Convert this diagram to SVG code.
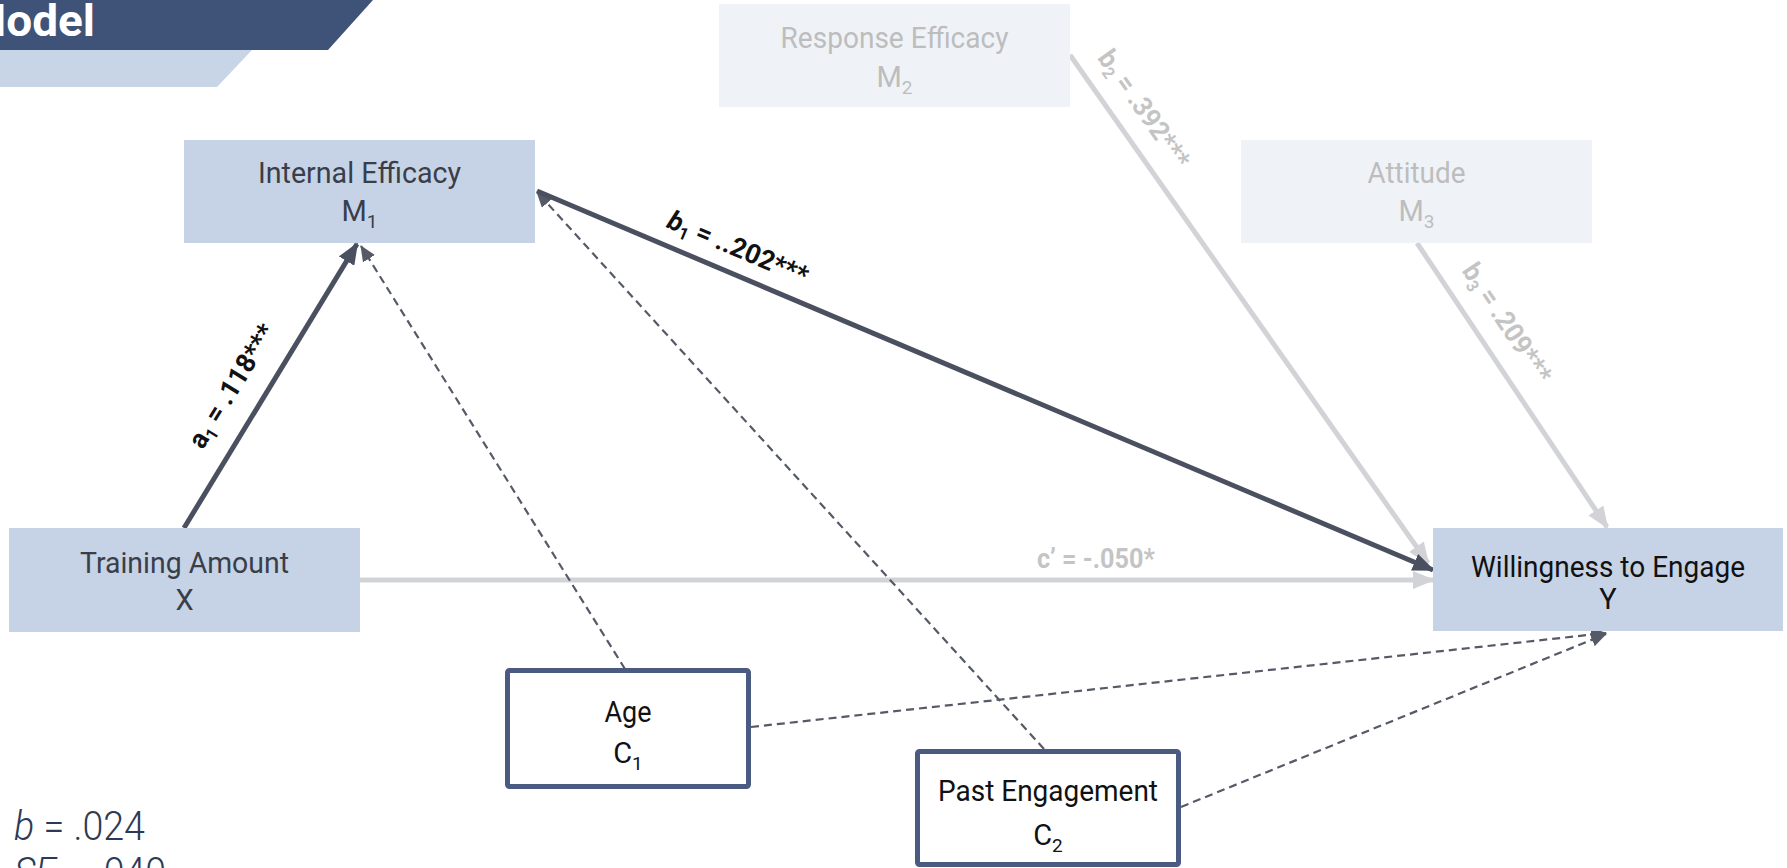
<svg xmlns="http://www.w3.org/2000/svg" width="1787" height="868" viewBox="0 0 1787 868">
<style>
.node{font-family:Roboto,"Liberation Sans",sans-serif;font-size:29px;text-anchor:middle}
.dk{fill:#3a3e48}
.bk{fill:#111}
.gy{fill:#bdbdbd}
.sub{font-size:19px}
.lbl{font-family:Roboto,"Liberation Sans",sans-serif;font-size:27px;font-weight:700;text-anchor:middle}
.solid{stroke:#4b5060;stroke-width:5;fill:none}
.gline{stroke:#d2d3d7;stroke-width:5;fill:none}
.dash{stroke:#555a66;stroke-width:2.2;stroke-dasharray:8 5;fill:none}
</style>
<defs>
<marker id="ad" markerUnits="userSpaceOnUse" markerWidth="22" markerHeight="18" refX="20" refY="9" orient="auto"><path d="M0,0 L22,9 L0,18 z" fill="#4b5060"/></marker>
<marker id="ag" markerUnits="userSpaceOnUse" markerWidth="22" markerHeight="18" refX="20" refY="9" orient="auto"><path d="M0,0 L22,9 L0,18 z" fill="#d2d3d7"/></marker>
<marker id="ax" markerUnits="userSpaceOnUse" markerWidth="16" markerHeight="14" refX="15" refY="7" orient="auto"><path d="M0,0 L16,7 L0,14 z" fill="#555a66"/></marker>
</defs>
<rect width="1787" height="868" fill="#fff"/>
<g id="header">
<polygon points="0,50 252,50 217,87 0,87" fill="#c8d5e7"/>
<polygon points="0,0 373,0 328,50 0,50" fill="#3f5278"/>
<text x="-34" y="36" font-family="Roboto,'Liberation Sans',sans-serif" font-size="45" font-weight="700" fill="#fff" textLength="129" lengthAdjust="spacingAndGlyphs">Model</text>
</g>
<g id="connectors">
<line class="gline" x1="1070" y1="55" x2="1428" y2="563" marker-end="url(#ag)"/>
<line class="gline" x1="1417" y1="243" x2="1607" y2="527" marker-end="url(#ag)"/>
<line class="gline" x1="360" y1="580" x2="1433" y2="580" marker-end="url(#ag)"/>
<line class="dash" x1="625" y1="669" x2="361" y2="246" marker-end="url(#ax)"/>
<line class="dash" x1="1044" y1="749" x2="537" y2="192" marker-end="url(#ax)"/>
<line class="dash" x1="751" y1="727" x2="1606" y2="633" marker-end="url(#ax)"/>
<line class="dash" x1="1181" y1="807" x2="1606" y2="634" marker-end="url(#ax)"/>
<line class="solid" x1="184" y1="528" x2="357" y2="244" marker-end="url(#ad)"/>
<line class="solid" x1="537" y1="191" x2="1433" y2="570" marker-end="url(#ad)"/>
<text class="lbl" fill="#111" transform="translate(232,386) rotate(-58.3)" y="9" textLength="140" lengthAdjust="spacingAndGlyphs">a<tspan font-size="17" dy="5">1</tspan><tspan dy="-5"> = .118***</tspan></text>
<text class="lbl" fill="#111" transform="translate(738,248) rotate(22.9)" y="9" textLength="150" lengthAdjust="spacingAndGlyphs"><tspan font-style="italic">b</tspan><tspan font-size="17" dy="5">1</tspan><tspan dy="-5"> = ..202***</tspan></text>
<text class="lbl" fill="#c4c4c4" font-weight="500" transform="translate(1144,109) rotate(54.7)" y="9" textLength="138" lengthAdjust="spacingAndGlyphs">b<tspan font-size="17" dy="5">2</tspan><tspan dy="-5"> = .392***</tspan></text>
<text class="lbl" fill="#c4c4c4" font-weight="500" transform="translate(1507,323) rotate(56.2)" y="9" textLength="138" lengthAdjust="spacingAndGlyphs">b<tspan font-size="17" dy="5">3</tspan><tspan dy="-5"> = .209***</tspan></text>
<text class="lbl" fill="#c4c4c4" x="1096" y="568" font-size="28" textLength="118" lengthAdjust="spacingAndGlyphs">c’ = -.050*</text>
</g>
<g id="node-response">
<rect x="719" y="4" width="351" height="103" fill="#eff3f8"/>
<text class="node gy" x="894.5" y="48" textLength="228" lengthAdjust="spacingAndGlyphs">Response Efficacy</text>
<text class="node gy" x="894.5" y="87">M<tspan class="sub" dy="7">2</tspan></text>
</g>
<g id="node-internal">
<rect x="184" y="140" width="351" height="103" fill="#c6d3e6"/>
<text class="node dk" x="359.5" y="183" textLength="203" lengthAdjust="spacingAndGlyphs">Internal Efficacy</text>
<text class="node dk" x="359.5" y="221">M<tspan class="sub" dy="7">1</tspan></text>
</g>
<g id="node-attitude">
<rect x="1241" y="140" width="351" height="103" fill="#eff3f8"/>
<text class="node gy" x="1416.5" y="183" textLength="98" lengthAdjust="spacingAndGlyphs">Attitude</text>
<text class="node gy" x="1416.5" y="221">M<tspan class="sub" dy="7">3</tspan></text>
</g>
<g id="node-training">
<rect x="9" y="528" width="351" height="104" fill="#c6d3e6"/>
<text class="node dk" x="184.5" y="573" textLength="209" lengthAdjust="spacingAndGlyphs">Training Amount</text>
<text class="node dk" x="184.5" y="610">X</text>
</g>
<g id="node-willingness">
<rect x="1433" y="528" width="350" height="103" fill="#c6d3e6"/>
<text class="node bk" x="1608" y="577" textLength="274" lengthAdjust="spacingAndGlyphs">Willingness to Engage</text>
<text class="node bk" x="1608" y="609">Y</text>
</g>
<g id="node-age">
<rect x="507.5" y="670.5" width="241" height="116" rx="2" fill="#fff" stroke="#4a5a80" stroke-width="5"/>
<text class="node bk" x="628" y="722" textLength="47" lengthAdjust="spacingAndGlyphs">Age</text>
<text class="node bk" x="628" y="763">C<tspan class="sub" dy="7">1</tspan></text>
</g>
<g id="node-past">
<rect x="917.5" y="751.5" width="261" height="113" rx="2" fill="#fff" stroke="#4a5a80" stroke-width="5"/>
<text class="node bk" x="1048" y="801" textLength="220" lengthAdjust="spacingAndGlyphs">Past Engagement</text>
<text class="node bk" x="1048" y="845">C<tspan class="sub" dy="7">2</tspan></text>
</g>
<g id="stats" font-family="Roboto,'Liberation Sans',sans-serif" font-size="40" font-weight="300" fill="#2c3a55">
<text x="14" y="840" textLength="131" lengthAdjust="spacingAndGlyphs"><tspan font-style="italic">b</tspan> = .024</text>
<text x="14" y="886" textLength="152" lengthAdjust="spacingAndGlyphs"><tspan font-style="italic">SE</tspan> = .040</text>
</g>
</svg>
